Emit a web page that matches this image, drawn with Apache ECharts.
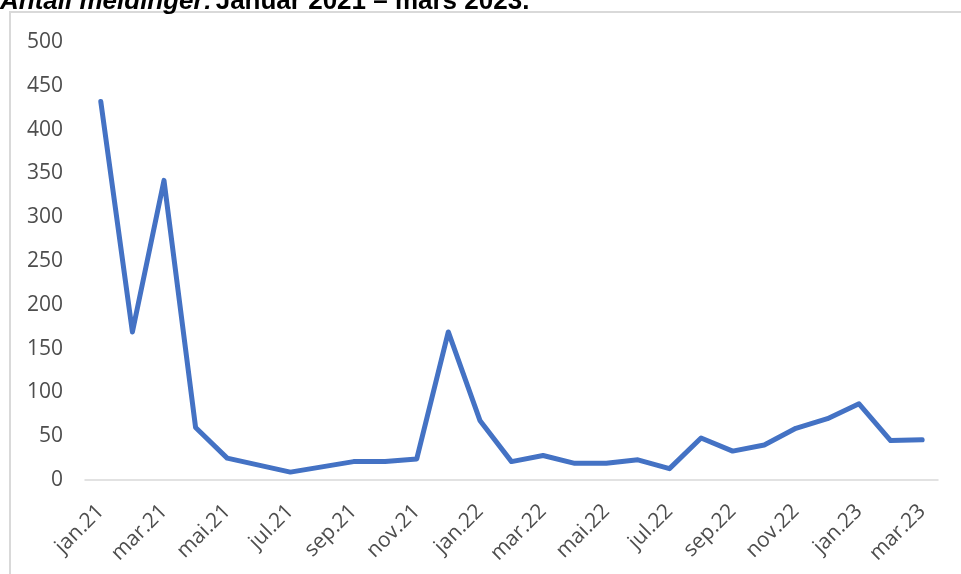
<!DOCTYPE html>
<html>
<head>
<meta charset="utf-8">
<script src="https://cdn.jsdelivr.net/npm/echarts@6/dist/echarts.min.js"></script>
<style>html,body{margin:0;padding:0;background:#fff;}#c{width:961px;height:574px;}</style>
</head>
<body>
<div id="c"></div>
<script>
const categories = ['jan.21','feb.21','mar.21','apr.21','mai.21','jun.21','jul.21','aug.21','sep.21','okt.21','nov.21','des.21',
  'jan.22','feb.22','mar.22','apr.22','mai.22','jun.22','jul.22','aug.22','sep.22','okt.22','nov.22','des.22',
  'jan.23','feb.23','mar.23'];
const meldinger = [432,169,342,60,25,17,9,15,21,21,24,169,
  68,21,28,19,19,23,13,48,33,40,59,70,
  87,45,46];
const yTicks = {min:0, max:500, interval:50};

const chart = echarts.init(document.getElementById('c'));
chart.setOption({
  animation:false,
  backgroundColor:'#fff',
  graphic:[
    {type:'rect', shape:{x:10, y:12, width:1000, height:1000}, style:{fill:'none', stroke:'#d9d9d9', lineWidth:2}, silent:true},
    {type:'text', x:0, y:15, style:{
      text:'{a|Antall meldinger:} {b|Januar 2021 – mars 2023.}',
      verticalAlign:'bottom',
      rich:{
        a:{fontFamily:'Liberation Sans, Arial', fontWeight:'bold', fontStyle:'italic', fontSize:26, fill:'#000'},
        b:{fontFamily:'Liberation Sans, Arial', fontWeight:'bold', fontSize:26, fill:'#000'}
      }
    }}
  ],
  grid:{left:85, right:23, top:42, bottom:94},
  xAxis:{
    type:'category', data:categories, boundaryGap:true,
    axisLine:{lineStyle:{color:'#d9d9d9', width:1.5}},
    axisTick:{interval:1, alignWithLabel:false, length:7, lineStyle:{color:'#d9d9d9', width:1.5}},
    axisLabel:{interval:1, rotate:45, margin:28, color:'#4d4d4d', fontFamily:'Open Sans', fontSize:21}
  },
  yAxis:{
    type:'value', min:yTicks.min, max:yTicks.max, interval:yTicks.interval,
    axisLine:{show:false}, axisTick:{show:false}, splitLine:{show:false},
    axisLabel:{margin:22, color:'#4d4d4d', fontFamily:'Open Sans', fontSize:21}
  },
  series:[{
    type:'line', data:meldinger, showSymbol:false, symbol:'none',
    lineStyle:{color:'#4472c4', width:5, cap:'round', join:'round'}
  }]
});
</script>
</body>
</html>
